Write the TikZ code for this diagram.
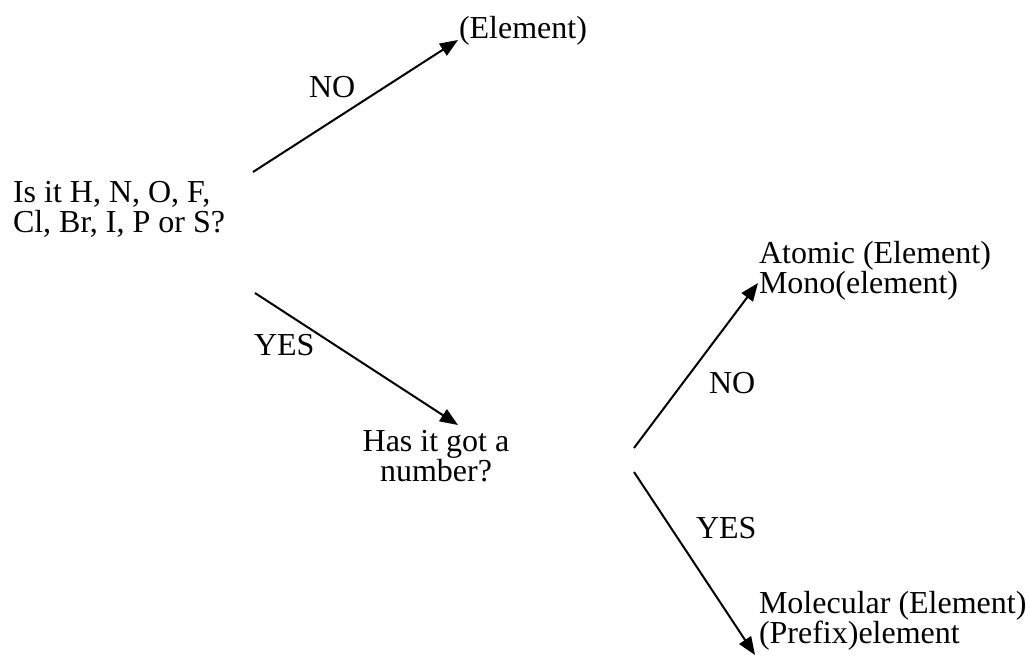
\documentclass[tikz,border=0pt]{standalone}
\usepackage{fontspec}
\setmainfont{Liberation Serif}
\usetikzlibrary{arrows.meta}

\tikzset{
  txt/.style={anchor=base west, inner sep=0pt, align=left, font=\fontsize{16}{15}\selectfont},
  arr/.style={-{Triangle[length=9pt,width=7pt]}, line width=1pt}
}

\begin{document}
\begin{tikzpicture}[x=0.5pt, y=-0.5pt, line width=1pt]
  \useasboundingbox (0,0) rectangle (1026,657);
  % text blocks (base = last line)
  \node[txt] (elem) at (458,39) {(Element)};
  \node[txt] (ask) at (12,233) {Is it H, N, O, F,\\Cl, Br, I, P or S?};
  \node[txt, align=center, anchor=base] (num) at (436,481) {Has it got a\\number?};
  \node[txt] (atom) at (758,293) {Atomic (Element)\\Mono(element)};
  \node[txt] (mol) at (758,643) {Molecular (Element)\\(Prefix)element};
  % arrow ends
  \coordinate (ask-no) at (253,172);
  \coordinate (ask-yes) at (255,293);
  \coordinate (num-no) at (634,448);
  \coordinate (num-yes) at (634,472);
  \coordinate (elem-in) at (458,40);
  \coordinate (num-in) at (458,425);
  \coordinate (atom-in) at (758,283);
  \coordinate (mol-in) at (755,655);
  \draw[arr] (ask-no) -- (elem-in);
  \draw[arr] (ask-yes) -- (num-in);
  \draw[arr] (num-no) -- (atom-in);
  \draw[arr] (num-yes) -- (mol-in);
  % branch labels
  \node[txt] (no-a) at (308,98) {NO};
  \node[txt] (yes-a) at (253,355) {YES};
  \node[txt] (no-b) at (708,393) {NO};
  \node[txt] (yes-b) at (695,538) {YES};
\end{tikzpicture}
\end{document}
